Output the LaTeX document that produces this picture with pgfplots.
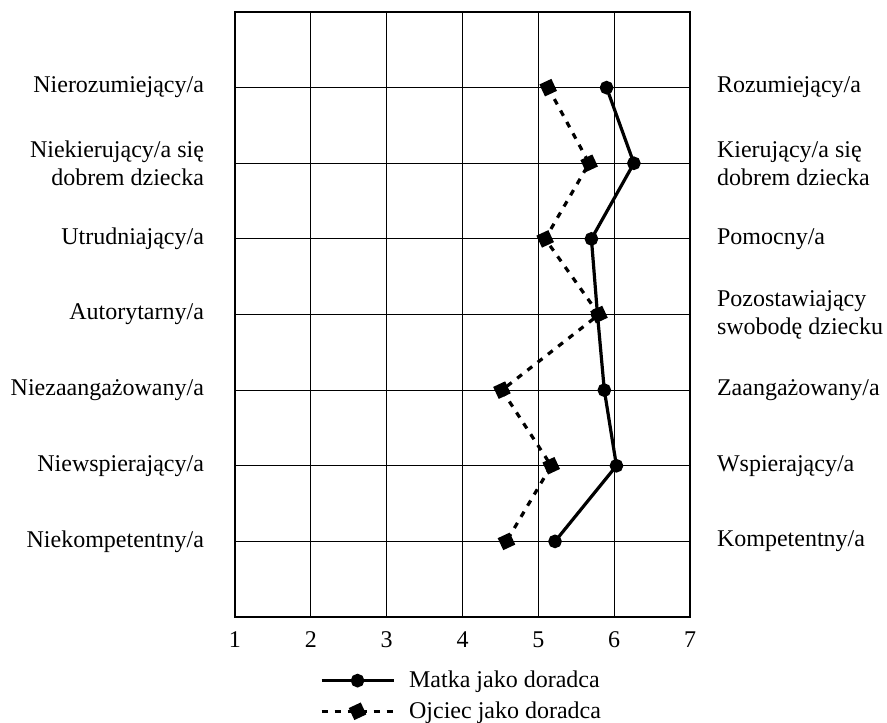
\documentclass[border=0pt]{standalone}
\usepackage{fontspec}
\setmainfont{Liberation Serif}
\usepackage{pgfplots}
\pgfplotsset{compat=1.18}
\newcommand{\lab}{\fontsize{12}{14}\selectfont}

\begin{document}
\begin{tikzpicture}
\useasboundingbox (-117.5pt,-52.5pt) rectangle (326pt,308.5pt);
\begin{axis}[
    at={(0,0)}, anchor=south west,
    scale only axis,
    width=227.5pt, height=302.5pt,
    xmin=1, xmax=7, ymin=0, ymax=8,
    y dir=reverse,
    xtick={1,...,7},
    ytick={1,...,7},
    yticklabels={Nierozumiejący/a, {Niekierujący/a się\\dobrem dziecka}, Utrudniający/a, Autorytarny/a, Niezaangażowany/a, Niewspierający/a, Niekompetentny/a},
    yticklabel style={align=right, font=\lab, xshift=-12pt},
    xticklabel style={font=\lab, yshift=-4pt},
    /pgf/number format/assume math mode=true,
    major tick length=0pt,
    grid=major,
    major grid style={black, line width=0.5pt},
    axis line style={black, line width=1pt},
    clip=false,
    legend style={at={(0.5,-0.075)}, anchor=north, draw=none, fill=none,
        font=\lab, row sep=1.5pt, legend cell align=left,
        /tikz/every odd column/.append style={column sep=5pt}},
    legend image code/.code={
        \draw[#1, mark repeat=2, mark phase=2] plot coordinates {(0pt,0pt) (18pt,0pt) (36pt,0pt)};
    },
]
% Matka jako doradca
\addplot[black, line width=1.6pt, mark=*, mark size=2.6pt] coordinates {
    (5.90,1) (6.26,2) (5.70,3) (5.78,4) (5.87,5) (6.03,6) (5.22,7)
};
\addlegendentry{Matka jako doradca}
% Ojciec jako doradca
\addplot[black, line width=1.6pt, dash pattern=on 3pt off 3.5pt, mark=square*,
    mark size=2.5pt, mark options={solid, rotate=25}] coordinates {
    (5.13,1) (5.67,2) (5.09,3) (5.80,4) (4.52,5) (5.17,6) (4.58,7)
};
\addlegendentry{Ojciec jako doradca}
\end{axis}
\begin{axis}[
    at={(0,0)}, anchor=south west,
    scale only axis,
    width=227.5pt, height=302.5pt,
    xmin=1, xmax=7, ymin=0, ymax=8,
    y dir=reverse,
    hide x axis,
    axis y line*=right,
    y axis line style={draw=none},
    major tick length=0pt,
    ytick={1,...,7},
    yticklabels={Rozumiejący/a, {Kierujący/a się\\dobrem dziecka}, Pomocny/a, {Pozostawiający\\swobodę dziecku}, Zaangażowany/a, Wspierający/a, Kompetentny/a},
    yticklabel style={align=left, font=\lab, xshift=10pt},
]
\end{axis}
\end{tikzpicture}
\end{document}
